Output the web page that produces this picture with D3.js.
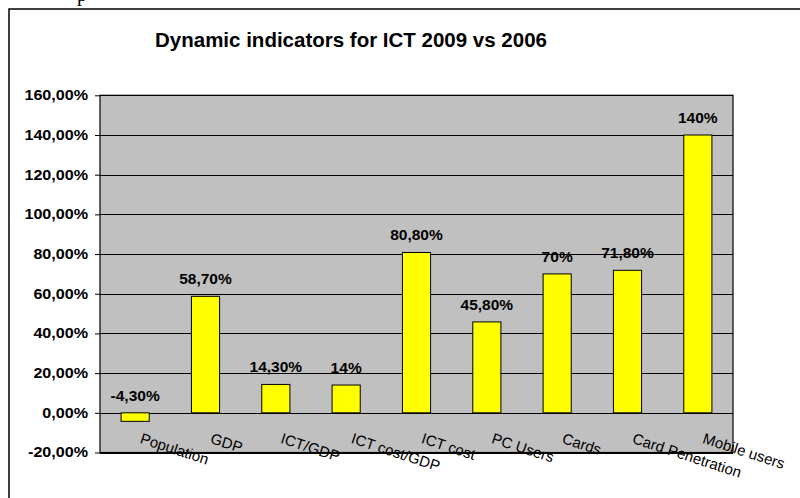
<!DOCTYPE html>
<html>
<head>
<meta charset="utf-8">
<script src="https://cdn.jsdelivr.net/npm/d3@7/dist/d3.min.js"></script>
<style>
  html, body { margin: 0; padding: 0; background: #fff; }
  svg { display: block; }
</style>
</head>
<body>
<svg id="chart" width="800" height="498"></svg>
<script>
const categories = ["Population", "GDP", "ICT/GDP", "ICT cost/GDP", "ICT cost", "PC Users", "Cards", "Card Penetration", "Mobile users"];
const values = [-4.3, 58.7, 14.3, 14, 80.8, 45.8, 70, 71.8, 140];
const valueLabels = ["-4,30%", "58,70%", "14,30%", "14%", "80,80%", "45,80%", "70%", "71,80%", "140%"];
const tickValues = [-20, 0, 20, 40, 60, 80, 100, 120, 140, 160];
const tickLabels = ["-20,00%", "0,00%", "20,00%", "40,00%", "60,00%", "80,00%", "100,00%", "120,00%", "140,00%", "160,00%"];
const title = "Dynamic indicators for ICT 2009 vs 2006";

const svg = d3.select("#chart");
const plot = { left: 100, right: 733, top: 95.3, bottom: 452.5 };
const FONT = "Liberation Sans, Arial, sans-serif";

// stretch text horizontally by a factor (the reference is slightly widened)
function stretch(sel, f) {
  sel.each(function () {
    const w = this.getComputedTextLength();
    d3.select(this).attr("textLength", w * f).attr("lengthAdjust", "spacingAndGlyphs");
  });
}

// stray cropped text above frame
svg.append("text").attr("x", 77).attr("y", 1)
  .attr("font-family", "Liberation Serif, Times New Roman, serif")
  .attr("font-size", 20).text("p");

// outer frame
svg.append("rect").attr("x", 9).attr("y", 9).attr("width", 820).attr("height", 520)
  .attr("fill", "#fff").attr("stroke", "#000").attr("stroke-width", 1.5);

const x = d3.scaleBand().domain(categories).range([plot.left, plot.right]).paddingInner(0.6).paddingOuter(0.3);
const y = d3.scaleLinear().domain([-20, 160]).range([plot.bottom, plot.top]);

// title
svg.append("text").attr("x", 351).attr("y", 47).attr("text-anchor", "middle")
  .attr("font-family", FONT).attr("font-weight", "bold")
  .attr("font-size", 20.5).text(title);

// plot background
svg.append("rect").attr("x", plot.left).attr("y", plot.top)
  .attr("width", plot.right - plot.left).attr("height", plot.bottom - plot.top)
  .attr("fill", "#C0C0C0");

// gridlines
svg.append("g").selectAll("line").data(tickValues).join("line")
  .attr("x1", plot.left).attr("x2", plot.right)
  .attr("y1", d => Math.round(y(d)) + 0.5).attr("y2", d => Math.round(y(d)) + 0.5)
  .attr("stroke", "#000").attr("stroke-width", 1);

// y axis
const yAxis = d3.axisLeft(y).tickValues(tickValues).tickSize(5).tickPadding(7)
  .tickFormat((d, i) => tickLabels[i]);
const gy = svg.append("g").attr("transform", `translate(${plot.left},0)`).call(yAxis);
gy.select(".domain").remove();
gy.selectAll(".tick line").attr("stroke", "#000");
gy.selectAll(".tick text").attr("font-family", FONT)
  .attr("font-weight", "bold").attr("font-size", 14).attr("fill", "#000")
  .call(stretch, 1.15);

// bars
svg.append("g").selectAll("rect").data(values).join("rect")
  .attr("x", (d, i) => x(categories[i]))
  .attr("width", x.bandwidth())
  .attr("y", d => y(Math.max(d, 0)))
  .attr("height", d => Math.abs(y(d) - y(0)))
  .attr("fill", "#FFFF00").attr("stroke", "#000").attr("stroke-width", 1);

// plot border
svg.append("rect").attr("x", plot.left).attr("y", plot.top)
  .attr("width", plot.right - plot.left).attr("height", plot.bottom - plot.top)
  .attr("fill", "none").attr("stroke", "#000").attr("stroke-width", 1.2);

// data labels
svg.append("g").selectAll("text").data(values).join("text")
  .attr("x", (d, i) => x(categories[i]) + x.bandwidth() / 2)
  .attr("y", d => y(Math.max(d, 0)) - 12)
  .attr("text-anchor", "middle")
  .attr("font-family", FONT).attr("font-weight", "bold")
  .attr("font-size", 14.5).attr("fill", "#000")
  .text((d, i) => valueLabels[i])
  .call(stretch, 1.07);

// category labels (rotated)
svg.append("g").selectAll("text").data(categories).join("text")
  .attr("transform", d => `translate(${x(d) + x.bandwidth() / 2 + 4},${y(0) + 30}) rotate(18)`)
  .attr("font-family", FONT)
  .attr("font-size", 15).attr("fill", "#000")
  .text(d => d);
</script>
</body>
</html>
